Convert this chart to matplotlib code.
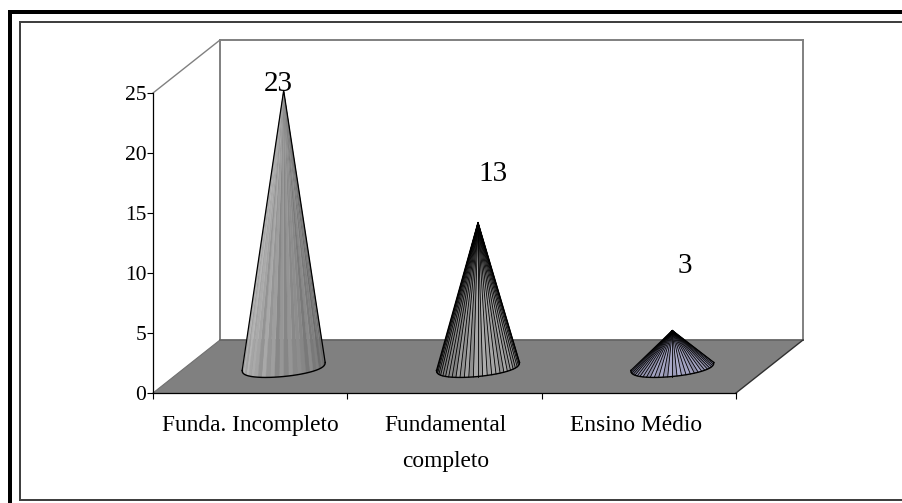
import numpy as np
import matplotlib
matplotlib.use("Agg")
import matplotlib.pyplot as plt
from matplotlib.patches import Polygon, Rectangle

plt.rcParams['font.family'] = ['Liberation Serif', 'DejaVu Sans']

categories = ["Funda. Incompleto", "Fundamental\ncompleto", "Ensino Médio"]
# cone heights as drawn; the middle cone is drawn lower than its printed label
heights = [23, 12, 3]
value_labels = ["23", "13", "3"]
y_ticks = [0, 5, 10, 15, 20, 25]

W, H = 902, 503


def main():
    fig = plt.figure(figsize=(W / 100, H / 100), dpi=100, facecolor="white")

    # outer frame, in pixels
    def frame_rect(x0, y0, x1, y1, color):
        fig.add_artist(Rectangle((x0 / W, 1 - y1 / H), (x1 - x0) / W, (y1 - y0) / H,
                                 transform=fig.transFigure, color=color, lw=0))

    frame_rect(8, 10, 12, 503, "black")
    frame_rect(8, 10, 902, 14, "black")
    frame_rect(19, 21, 20.5, 500, "#404040")
    frame_rect(19, 21, 902, 22.5, "#404040")
    frame_rect(19, 499, 902, 500.5, "#404040")

    ax = fig.add_axes([153 / W, 1 - 393 / H, 583 / W, 300 / H])
    ax.set_xlim(0, 3)
    ax.set_ylim(0, 25)
    ax.patch.set_visible(False)

    px = 3 / 583
    py = 25 / 300
    dx = 67 * px
    dy = 53 * py

    # floor and walls
    ax.add_patch(Polygon([(0, 0), (3, 0), (3 + dx, dy), (dx, dy)], closed=True,
                         facecolor="#808080", edgecolor="none", clip_on=False, zorder=1))
    wall = dict(color="#808080", lw=1.4, clip_on=False, zorder=1.5, solid_capstyle="projecting")
    ax.plot([0, dx], [25, 25 + dy], color="#808080", lw=1, clip_on=False, zorder=1.5)
    ax.plot([dx, dx], [dy, 25 + dy], **wall)
    ax.plot([dx, 3 + dx], [25 + dy, 25 + dy], **wall)
    ax.plot([3 + dx, 3 + dx], [dy, 25 + dy], **wall)
    ax.plot([0, dx], [0, dy], color="#707070", lw=0.8, clip_on=False, zorder=1.5)
    ax.plot([dx, 3 + dx], [dy, dy], color="#666666", lw=1.3, clip_on=False, zorder=1.5)
    ax.plot([3, 3 + dx], [0, dy], color="#303030", lw=1, clip_on=False, zorder=1.5)

    # cones
    styles = [
        dict(left=0.70, mid=0.56, right=0.42, edge=None, tint=(1, 1, 1)),
        dict(left=0.40, mid=0.64, right=0.55, edge="black", tint=(1, 1, 1)),
        dict(left=0.50, mid=0.66, right=0.55, edge="black", tint=(0.97, 0.97, 1.15)),
    ]
    stripes = [1.0, 1.07, 0.95, 1.04, 0.92, 1.06, 0.98, 1.09, 0.94, 1.02, 1.05]
    a = 41.5 * px
    b = 10 * py
    tilt = 4 * py
    n = 28

    for i, h in enumerate(heights):
        st = styles[i]
        cx = i + 0.5 + dx / 2
        cy = dy / 2
        theta = np.linspace(0, np.pi, n + 1)
        rim_x = cx + a * np.cos(theta)
        # squared-off sine keeps the front of the rim flat like the source
        rim_y = cy + tilt * np.cos(theta) - b * np.sin(theta) ** 0.8
        apex = (cx, cy + h)
        for k in range(n):
            # k runs from the right edge of the cone to the left
            pos = (k + 0.5) / n
            if pos < 0.5:
                g = st["right"] + (st["mid"] - st["right"]) * pos * 2
            else:
                g = st["mid"] + (st["left"] - st["mid"]) * (pos - 0.5) * 2
            g = g * stripes[k % len(stripes)]
            color = np.clip(np.array(st["tint"]) * g, 0, 1)
            tri = [(rim_x[k], rim_y[k]), (rim_x[k + 1], rim_y[k + 1]), apex]
            ax.add_patch(Polygon(tri, closed=True, facecolor=color, edgecolor=color,
                                 lw=0.3, clip_on=False, zorder=3))
            if st["edge"] is not None:
                ax.plot([rim_x[k], apex[0]], [rim_y[k], apex[1]], color="black", lw=0.6,
                        clip_on=False, zorder=3.5)
        ax.plot(rim_x, rim_y, color="black", lw=1, clip_on=False, zorder=4)
        ax.plot([rim_x[0], apex[0], rim_x[-1]], [rim_y[0], apex[1], rim_y[-1]],
                color="black", lw=0.9, clip_on=False, zorder=4)

    # value labels sit at fixed spots, not on the cones
    label_x = [0.643, 1.75, 2.738]
    label_y = [25.75, 18.25, 10.6]
    for i, label in enumerate(value_labels):
        ax.text(label_x[i], label_y[i], label, fontsize=21, ha="center", va="center",
                clip_on=False, zorder=5)

    # axes
    for side in ["top", "right"]:
        ax.spines[side].set_visible(False)
    for side in ["left", "bottom"]:
        ax.spines[side].set_linewidth(0.9)
        ax.spines[side].set_zorder(2)

    ax.set_yticks(y_ticks)
    ax.tick_params(axis="y", length=4.3, width=0.8, labelsize=15.5, pad=0.5)
    ax.set_xticks([0, 1, 2, 3])
    ax.set_xticklabels([])
    ax.tick_params(axis="x", which="major", length=4.3, width=0.8)
    ax.set_xticks([0.5, 1.505, 2.485], minor=True)
    ax.set_xticklabels(categories, minor=True, fontsize=16.8, linespacing=1.95)
    ax.tick_params(axis="x", which="minor", length=0, pad=16)

    fig.savefig("out.png", dpi=100)


if __name__ == "__main__":
    main()
